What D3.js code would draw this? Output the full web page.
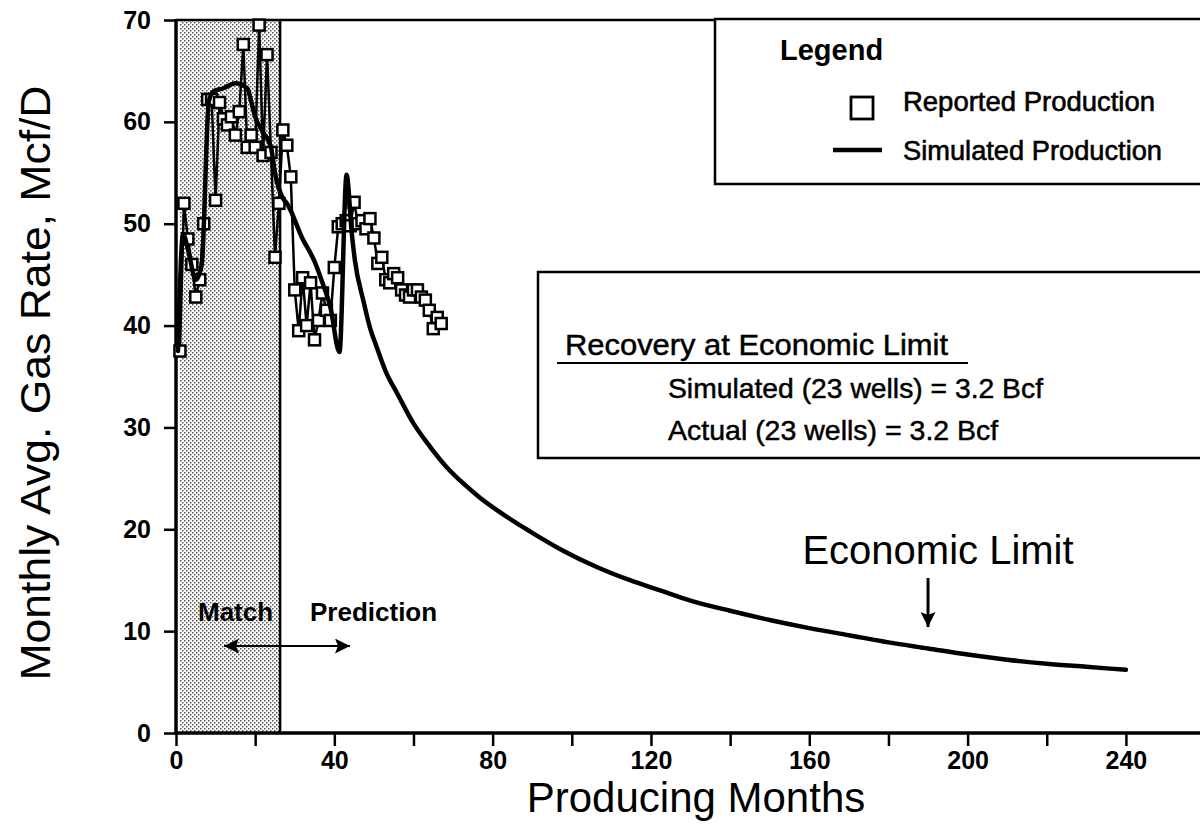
<!DOCTYPE html>
<html>
<head>
<meta charset="utf-8">
<script src="https://cdn.jsdelivr.net/npm/d3@7"></script>
<style>
  html, body { margin: 0; padding: 0; background: #fff; }
  svg { display: block; }
  text { font-family: "Liberation Sans", Arial, Helvetica, sans-serif; fill: #000; }
</style>
</head>
<body>
<svg id="chart" width="1200" height="836"></svg>
<script>
// Reported monthly production (months 1..67), Mcf/D
const reportedMonths = d3.range(1, 68);
const reportedRates = [
  37.5, 52.0, 48.5, 46.0, 42.8, 44.5, 50.0, 62.2, 62.2, 52.3,
  61.9, 60.3, 59.7, 60.5, 58.7, 61.0, 67.6, 57.5, 58.7, 57.5,
  69.5, 56.7, 66.6, 57.0, 46.7, 52.0, 59.2, 57.7, 54.6, 43.5,
  39.5, 44.7, 40.0, 44.2, 38.6, 40.5, 43.2, 41.5, 40.5, 45.7,
  49.7, 50.0, 50.3, 49.8, 52.1, 50.0, 50.3, 49.5, 50.5, 48.6,
  46.1, 46.7, 44.5, 44.2, 45.1, 44.7, 43.5, 43.0, 42.8, 43.5,
  43.5, 42.8, 42.5, 41.5, 39.7, 40.8, 40.2
];

// Simulated production (history match, then forecast to the economic limit)
const simulatedMonths = [
  0.5, 1.8, 3, 5, 6.5, 8.3, 9.5, 12, 15, 18,
  19, 20, 22, 24, 25, 27, 28, 32, 35, 37,
  39, 41.3, 43.1, 44.4, 45.2, 47.3, 49, 50.7, 53.2, 55.8,
  60, 64.2, 68.4, 72.6, 76.8, 81, 89.4, 97.8, 106.3, 114.7,
  122.3, 130, 140, 150, 160, 170, 180, 190, 200, 210,
  220, 230, 240
];
const simulatedRates = [
  37.5, 49.0, 47.5, 44.5, 46.0, 62.0, 63.0, 63.3, 63.8, 63.3,
  62.0, 60.5, 59.0, 57.5, 55.0, 52.5, 52.0, 48.5, 46.3, 44.2,
  41.8, 37.4, 54.8, 49.1, 46.4, 42.5, 39.8, 37.9, 35.3, 33.4,
  30.4, 28.1, 26.1, 24.5, 23.1, 21.9, 19.8, 17.9, 16.3, 15.0,
  14.0, 13.0, 12.0, 11.1, 10.3, 9.6, 8.9, 8.3, 7.7, 7.2,
  6.8, 6.5, 6.2
];

// Axis ticks
const xMajorTicks = [0, 40, 80, 120, 160, 200, 240];
const xMinorTicks = [20, 60, 100, 140, 180, 220, 260];
const yTicks = [0, 10, 20, 30, 40, 50, 60, 70];

// Periods and annotations
const matchPeriod = [1, 26.3];
const economicLimitMonth = 190;

const svg = d3.select("#chart");

const x = d3.scaleLinear().domain([0, 260]).range([176, 176 + 260 * 3.958]);
const y = d3.scaleLinear().domain([0, 70]).range([733, 20]);

// Halftone-like dot pattern for the history-match period
const defs = svg.append("defs");
const pat = defs.append("pattern")
  .attr("id", "dots").attr("patternUnits", "userSpaceOnUse")
  .attr("width", 4).attr("height", 4);
pat.append("rect").attr("width", 4).attr("height", 4).attr("fill", "#fff");
pat.append("rect").attr("x", 0).attr("y", 0).attr("width", 1.5).attr("height", 1.5).attr("fill", "#555");
pat.append("rect").attr("x", 2).attr("y", 2).attr("width", 1.5).attr("height", 1.5).attr("fill", "#555");

svg.append("rect")
  .attr("x", x(matchPeriod[0])).attr("y", y(70))
  .attr("width", x(matchPeriod[1]) - x(matchPeriod[0]))
  .attr("height", y(0) - y(70))
  .attr("fill", "url(#dots)");

svg.append("line")
  .attr("x1", x(matchPeriod[1])).attr("x2", x(matchPeriod[1]))
  .attr("y1", y(70)).attr("y2", y(0))
  .attr("stroke", "#000").attr("stroke-width", 2.5);

// Frame top
svg.append("line")
  .attr("x1", x(0)).attr("x2", 1200)
  .attr("y1", y(70)).attr("y2", y(70))
  .attr("stroke", "#000").attr("stroke-width", 2.5);

// Y axis
const yAxis = svg.append("g")
  .attr("transform", `translate(${x(0)},0)`)
  .call(d3.axisLeft(y).tickValues(yTicks).tickSize(12).tickPadding(13).tickFormat(d3.format("d")));
yAxis.select(".domain").remove();
yAxis.selectAll(".tick line").attr("stroke-width", 2.5);
yAxis.selectAll(".tick text")
  .style("font-size", "25px").style("font-weight", "bold")
  .style("font-family", "'Liberation Sans', Arial, sans-serif");

// X axis (major labelled ticks every 40, minor every 20)
const xAxis = svg.append("g")
  .attr("transform", `translate(0,${y(0)})`)
  .call(d3.axisBottom(x).tickValues(xMajorTicks).tickSize(13).tickPadding(5).tickFormat(d3.format("d")));
xAxis.select(".domain").remove();
xAxis.selectAll(".tick line").attr("stroke-width", 2.5);
xAxis.selectAll(".tick text")
  .style("font-size", "25px").style("font-weight", "bold")
  .style("font-family", "'Liberation Sans', Arial, sans-serif");

const xMinor = svg.append("g")
  .attr("transform", `translate(0,${y(0)})`)
  .call(d3.axisBottom(x).tickValues(xMinorTicks).tickSize(13).tickFormat(""));
xMinor.select(".domain").remove();
xMinor.selectAll(".tick line").attr("stroke-width", 2.5);

svg.append("line")
  .attr("x1", x(0)).attr("x2", 1200)
  .attr("y1", y(0)).attr("y2", y(0))
  .attr("stroke", "#000").attr("stroke-width", 3.5);
svg.append("line")
  .attr("x1", x(0)).attr("x2", x(0))
  .attr("y1", y(70) - 1).attr("y2", y(0) + 1.5)
  .attr("stroke", "#000").attr("stroke-width", 3.5);

// Axis titles
svg.append("text")
  .attr("transform", `translate(50,383) rotate(-90)`)
  .attr("text-anchor", "middle")
  .attr("textLength", 595).attr("lengthAdjust", "spacingAndGlyphs")
  .style("font-size", "42px")
  .text("Monthly Avg. Gas Rate, Mcf/D");

svg.append("text")
  .attr("x", 696).attr("y", 812)
  .attr("text-anchor", "middle")
  .style("font-size", "42px")
  .text("Producing Months");

// Reported production: connected open squares
const reported = reportedMonths.map((m, i) => ({ m, v: reportedRates[i] }));
const simulated = simulatedMonths.map((m, i) => ({ m, v: simulatedRates[i] }));

svg.append("path")
  .datum(reported)
  .attr("fill", "none").attr("stroke", "#000").attr("stroke-width", 2.5)
  .attr("stroke-linejoin", "round")
  .attr("d", d3.line().x(d => x(d.m)).y(d => y(d.v)));

const sq = 11;
svg.append("g").selectAll("rect")
  .data(reported).join("rect")
  .attr("x", d => x(d.m) - sq / 2).attr("y", d => y(d.v) - sq / 2)
  .attr("width", sq).attr("height", sq)
  .attr("fill", "#fff").attr("stroke", "#000").attr("stroke-width", 2.5);

// Simulated production: heavy line
svg.append("path")
  .datum(simulated)
  .attr("fill", "none").attr("stroke", "#000").attr("stroke-width", 4.5)
  .attr("stroke-linejoin", "round").attr("stroke-linecap", "round")
  .attr("d", d3.line().curve(d3.curveMonotoneX).x(d => x(d.m)).y(d => y(d.v)));

// Legend box
const lg = svg.append("g");
lg.append("rect")
  .attr("x", 715).attr("y", 19).attr("width", 520).attr("height", 165)
  .attr("fill", "#fff").attr("stroke", "#000").attr("stroke-width", 2.5);
lg.append("text").attr("x", 780).attr("y", 60)
  .style("font-size", "29px").style("font-weight", "bold").text("Legend");
lg.append("rect").attr("x", 851).attr("y", 97).attr("width", 22).attr("height", 22)
  .attr("fill", "#fff").attr("stroke", "#000").attr("stroke-width", 2.8);
lg.append("text").attr("x", 903).attr("y", 111)
  .style("font-size", "27px").attr("stroke", "#000").attr("stroke-width", 0.6)
  .attr("textLength", 252).attr("lengthAdjust", "spacingAndGlyphs")
  .text("Reported Production");
lg.append("line").attr("x1", 833).attr("x2", 882).attr("y1", 150).attr("y2", 150)
  .attr("stroke", "#000").attr("stroke-width", 4.5);
lg.append("text").attr("x", 903).attr("y", 160)
  .style("font-size", "27px").attr("stroke", "#000").attr("stroke-width", 0.6)
  .attr("textLength", 259).attr("lengthAdjust", "spacingAndGlyphs")
  .text("Simulated Production");

// Recovery summary box
const rb = svg.append("g");
rb.append("rect")
  .attr("x", 538).attr("y", 272).attr("width", 700).attr("height", 186)
  .attr("fill", "#fff").attr("stroke", "#000").attr("stroke-width", 2.5);
rb.append("text").attr("x", 565).attr("y", 355)
  .style("font-size", "30px").attr("stroke", "#000").attr("stroke-width", 0.5)
  .attr("textLength", 383).attr("lengthAdjust", "spacingAndGlyphs")
  .text("Recovery at Economic Limit");
rb.append("line").attr("x1", 557).attr("x2", 968).attr("y1", 363).attr("y2", 363)
  .attr("stroke", "#000").attr("stroke-width", 2);
rb.append("text").attr("x", 668).attr("y", 398)
  .style("font-size", "28.5px").attr("stroke", "#000").attr("stroke-width", 0.5)
  .attr("textLength", 375).attr("lengthAdjust", "spacingAndGlyphs")
  .text("Simulated (23 wells) = 3.2 Bcf");
rb.append("text").attr("x", 668).attr("y", 440)
  .style("font-size", "28.5px").attr("stroke", "#000").attr("stroke-width", 0.5)
  .text("Actual (23 wells) = 3.2 Bcf");

// Economic limit annotation
svg.append("text").attr("x", 938).attr("y", 564).attr("text-anchor", "middle")
  .style("font-size", "40px").text("Economic Limit");
const arrowHead = (id, w, h) => defs.append("marker")
  .attr("id", id).attr("viewBox", "0 0 10 10").attr("refX", 10).attr("refY", 5)
  .attr("markerWidth", w).attr("markerHeight", h).attr("markerUnits", "userSpaceOnUse")
  .attr("orient", "auto-start-reverse")
  .append("path").attr("d", "M0,0 L10,5 L0,10 L2,5 Z").attr("fill", "#000");
arrowHead("ah", 17, 15);
svg.append("line")
  .attr("x1", x(economicLimitMonth)).attr("x2", x(economicLimitMonth))
  .attr("y1", 578).attr("y2", 627)
  .attr("stroke", "#000").attr("stroke-width", 3)
  .attr("marker-end", "url(#ah)");

// Match / Prediction annotation
svg.append("text").attr("x", 198).attr("y", 621)
  .style("font-size", "26px").style("font-weight", "bold").text("Match");
svg.append("text").attr("x", 310).attr("y", 621)
  .style("font-size", "26px").style("font-weight", "bold").text("Prediction");
svg.append("line")
  .attr("x1", 224).attr("x2", 350).attr("y1", 646).attr("y2", 646)
  .attr("stroke", "#000").attr("stroke-width", 2)
  .attr("marker-start", "url(#ah)").attr("marker-end", "url(#ah)");
</script>
</body>
</html>
